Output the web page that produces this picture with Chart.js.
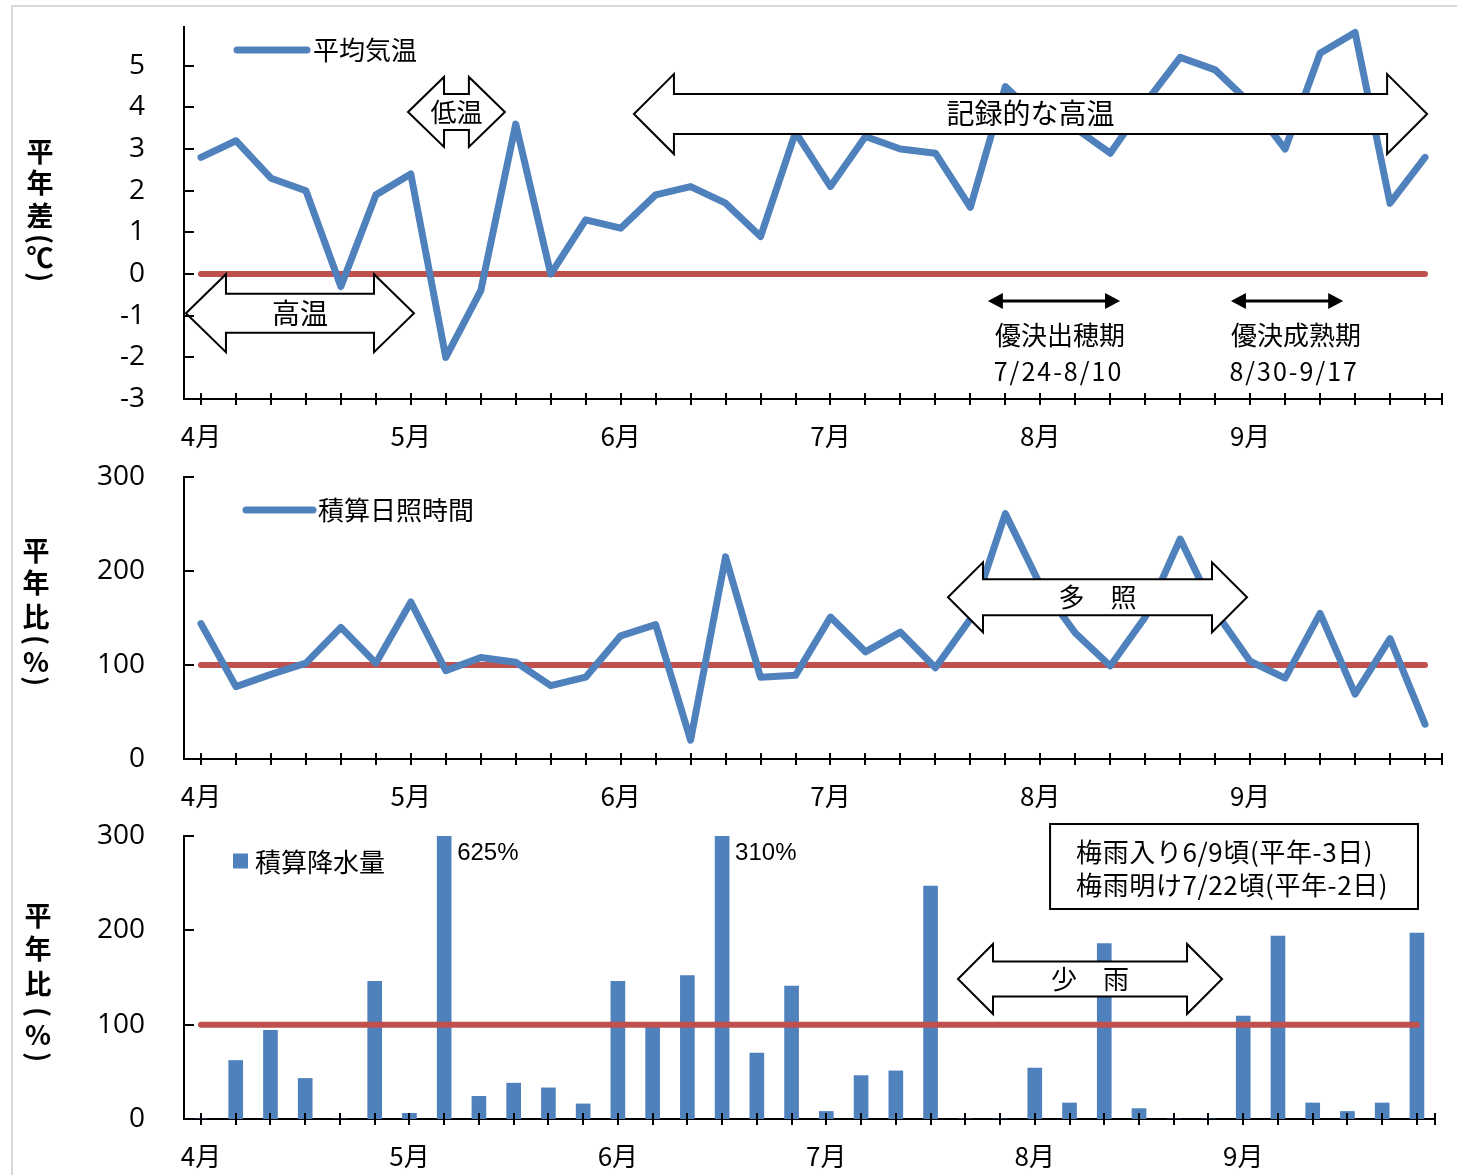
<!DOCTYPE html>
<html lang="ja"><head><meta charset="utf-8">
<script src="https://cdn.jsdelivr.net/npm/chart.js@4.4.1/dist/chart.umd.min.js"></script>
<style>
html,body{margin:0;padding:0;background:#fff;}
#wrap{position:relative;width:1457px;height:1175px;overflow:hidden;background:#fff;}
#wrap canvas{position:absolute;left:0;}
.fl{position:absolute;left:11px;top:5px;width:2px;height:1170px;background:#d9d9d9;}
.ft{position:absolute;left:11px;top:5px;width:1446px;height:2px;background:#d9d9d9;}
</style></head><body>
<div id="wrap">
<div class="fl"></div><div class="ft"></div>
<canvas id="c1" width="1457" height="460" style="top:0"></canvas>
<canvas id="c2" width="1457" height="360" style="top:460px"></canvas>
<canvas id="c3" width="1457" height="355" style="top:820px"></canvas>
</div>
<script>
// ---- data ----
const months = ['4月','5月','6月','7月','8月','9月'];
const periodsPerMonth = 6;   // 半旬
const nPeriods = 36;
const tempAnomaly = [2.8,3.2,2.3,2.0,-0.3,1.9,2.4,-2.0,-0.4,3.6,0.0,1.3,1.1,1.9,2.1,1.7,0.9,3.4,2.1,3.3,3.0,2.9,1.6,4.5,3.7,3.5,2.9,4.1,5.2,4.9,4.1,3.0,5.3,5.8,1.7,2.8];
const sunshineRatio = [144,77,90,102,140,102,167,94,108,103,78,87,131,143,20,215,87,89,151,114,135,97,149,261,185,134,99,151,234,157,104,86,155,69,128,37];
const precipRatio = [0,62,94,43,0,146,6,625,24,38,33,16,146,100,152,310,70,141,8,46,51,247,0,0,54,17,186,11,0,0,109,194,17,8,17,197];
const tempNormal = 0;
const ratioNormal = 100;
const tempTicks = [-3,-2,-1,0,1,2,3,4,5];
const ratioTicks = [0,100,200,300];

const BLUE = '#4f81bd', RED = '#c0504d';
const JP = '"Noto Sans CJK JP", sans-serif';

function pts(arr){ return arr.map((v,i)=>({x:i,y:v})); }
function normalLine(v){ return [{x:0,y:v},{x:nPeriods-1,y:v}]; }

function blockArrow(ctx,x1,x2,yc,hl,hh,sh){
  ctx.beginPath();
  ctx.moveTo(x1,yc);
  ctx.lineTo(x1+hl,yc-hh); ctx.lineTo(x1+hl,yc-sh);
  ctx.lineTo(x2-hl,yc-sh); ctx.lineTo(x2-hl,yc-hh);
  ctx.lineTo(x2,yc);
  ctx.lineTo(x2-hl,yc+hh); ctx.lineTo(x2-hl,yc+sh);
  ctx.lineTo(x1+hl,yc+sh); ctx.lineTo(x1+hl,yc+hh);
  ctx.closePath();
  ctx.fillStyle='#fff'; ctx.fill();
  ctx.lineWidth=2; ctx.strokeStyle='#000'; ctx.lineJoin='miter'; ctx.stroke();
}
function thinArrow(ctx,x1,x2,y){
  const hl=15, hh=8;
  ctx.strokeStyle='#000'; ctx.fillStyle='#000'; ctx.lineWidth=3;
  ctx.beginPath(); ctx.moveTo(x1+hl-2,y); ctx.lineTo(x2-hl+2,y); ctx.stroke();
  ctx.beginPath(); ctx.moveTo(x1,y); ctx.lineTo(x1+hl,y-hh); ctx.lineTo(x1+hl,y+hh); ctx.closePath(); ctx.fill();
  ctx.beginPath(); ctx.moveTo(x2,y); ctx.lineTo(x2-hl,y-hh); ctx.lineTo(x2-hl,y+hh); ctx.closePath(); ctx.fill();
}
// vertical (stacked) axis title: CJK upright, parentheses rotated
function verticalTitle(ctx, t){
  ctx.save();
  ctx.fillStyle='#000'; ctx.font='bold 27px '+JP; ctx.textAlign='center'; ctx.textBaseline='middle';
  [...t.text].forEach((ch,i)=>{
    const y=t.ys[i];
    if (ch==='(' || ch===')'){
      ctx.save(); ctx.translate(t.x,y); ctx.rotate(Math.PI/2); ctx.fillText(ch,0,0); ctx.restore();
    } else ctx.fillText(ch,t.x,y);
  });
  ctx.restore();
}

const decoPlugin = {
  id:'deco',
  afterDatasetsDraw(chart, args, o){
    const ctx=chart.ctx, xs=chart.scales.x, ys=chart.scales.y, ca=chart.chartArea;
    const X=v=>xs.getPixelForValue(v), Y=v=>ys.getPixelForValue(v);
    ctx.save();
    if (o.barLabels){
      ctx.font='24px "Liberation Sans", Arial, sans-serif'; ctx.fillStyle='#000';
      ctx.textAlign='left'; ctx.textBaseline='middle';
      o.barLabels.data.forEach((v,i)=>{ if(v>ys.max) ctx.fillText(v+'%', X(i)+13, ca.top+17); });
    }
    (o.arrows||[]).forEach(a=>{
      const x1=X(a.from), x2=X(a.to), yc=Y(a.y);
      blockArrow(ctx,x1,x2,yc,a.head,a.headHalf,a.shaftHalf);
      ctx.fillStyle='#000'; ctx.font=a.font; ctx.textAlign='center'; ctx.textBaseline='middle';
      ctx.fillText(a.text,(x1+x2)/2,yc+(a.dy||0));
    });
    (o.thin||[]).forEach(a=>thinArrow(ctx,X(a.from),X(a.to),Y(a.y)));
    (o.texts||[]).forEach(t=>{
      ctx.fillStyle='#000'; ctx.font=t.font; ctx.textAlign='center'; ctx.textBaseline='middle';
      ctx.letterSpacing = t.ls || '0px';
      ctx.fillText(t.text,X(t.x),Y(t.y));
      ctx.letterSpacing = '0px';
    });
    if (o.box){
      const b=o.box, x1=X(b.from), x2=X(b.to), y1=Y(b.top), y2=Y(b.bottom);
      ctx.fillStyle='#fff'; ctx.fillRect(x1,y1,x2-x1,y2-y1);
      ctx.lineWidth=2; ctx.strokeStyle='#000'; ctx.strokeRect(x1,y1,x2-x1,y2-y1);
      ctx.fillStyle='#000'; ctx.font=b.font; ctx.textAlign='left'; ctx.textBaseline='middle';
      ctx.letterSpacing = b.ls || '0px';
      b.lines.forEach((l,i)=>ctx.fillText(l,X(b.textX),Y(b.lineY[i])));
      ctx.letterSpacing = '0px';
    }
    const L=o.legend;
    if (L){
      if (L.kind==='line'){
        ctx.strokeStyle=BLUE; ctx.lineWidth=7; ctx.lineCap='round';
        ctx.beginPath(); ctx.moveTo(L.x1,L.y); ctx.lineTo(L.x2,L.y); ctx.stroke();
      } else {
        ctx.fillStyle=BLUE; ctx.fillRect(L.x1,L.y-7.5,15,15);
      }
      ctx.fillStyle='#000'; ctx.font='26px '+JP; ctx.textAlign='left'; ctx.textBaseline='middle';
      ctx.fillText(L.text,L.tx,L.y+(L.tdy||0));
    }
    if (o.title) verticalTitle(ctx, o.title);
    ctx.restore();
  },
  afterDraw(chart){
    const ctx=chart.ctx, xs=chart.scales.x, ys=chart.scales.y, ca=chart.chartArea;
    ctx.save(); ctx.strokeStyle='#000'; ctx.lineWidth=2; ctx.lineCap='butt';
    const bx=[];
    for(let i=0;i<nPeriods;i++) bx.push(Math.round(xs.getPixelForValue(i)));
    bx.push(Math.round(ca.right));
    ctx.beginPath();
    bx.forEach(px=>{ ctx.moveTo(px,ca.bottom-6); ctx.lineTo(px,ca.bottom+6); });
    ys.ticks.forEach(t=>{ const py=Math.round(ys.getPixelForValue(t.value)); ctx.moveTo(ca.left,py); ctx.lineTo(ca.left+10,py); });
    ctx.stroke();
    ctx.restore();
  }
};

function makeChart(id, p){
  const H = document.getElementById(id).height;
  return new Chart(document.getElementById(id), {
    data:{datasets:p.datasets},
    options:{
      responsive:false, animation:false, devicePixelRatio:1,
      layout:{padding:{left:0,right:1457-p.right,top:p.top,bottom:0}},
      plugins:{legend:{display:false}, tooltip:{enabled:false}, deco:p.deco},
      scales:{
        x:{type:'linear', min:p.xMin, max:p.xMax, offset:false,
           afterBuildTicks:s=>{ s.ticks=Array.from({length:nPeriods},(_,i)=>({value:i})); },
           afterFit:s=>{ s.height = H - p.bottom; },
           grid:{display:false, drawTicks:true, tickLength:22},
           border:{display:true,color:'#000',width:2},
           ticks:{autoSkip:false,maxRotation:0,minRotation:0,padding:0,color:'#000',
                  font:{family:JP,size:26},
                  callback:v=> (v%periodsPerMonth===0)? months[v/periodsPerMonth] : ''}},
        y:{type:'linear', min:p.yMin, max:p.yMax,
           afterBuildTicks:s=>{ s.ticks=p.yTicks.map(v=>({value:v})); },
           afterFit:s=>{ s.width = 184; },
           grid:{display:false, drawTicks:true, tickLength:39},
           border:{display:true,color:'#000',width:2},
           ticks:{padding:0,color:'#000',font:{family:'"Open Sans", sans-serif',size:28,lineHeight:1},
                  callback:v=>String(v)}}
      }
    },
    plugins:[decoPlugin]
  });
}

const lineStyle = {type:'line', pointRadius:0, tension:0, borderCapStyle:'round', borderJoinStyle:'round'};

// Panel 1: 平均気温 平年差
makeChart('c1',{
  top:27, bottom:399, right:1442, xMin:-0.486, xMax:35.486, yMin:-3, yMax:5.93, yTicks:tempTicks,
  datasets:[
    Object.assign({label:'平均気温', data:pts(tempAnomaly), borderColor:BLUE, borderWidth:7}, lineStyle),
    Object.assign({label:'平年', data:normalLine(tempNormal), borderColor:RED, borderWidth:6}, lineStyle)
  ],
  deco:{
    title:{text:'平年差(℃)', x:40, ys:[152,183,216,239,258,277]},
    legend:{kind:'line', x1:237, x2:307, y:50, tx:313, text:'平均気温'},
    arrows:[
      {from:-0.43, to:6.09, y:-0.94, head:40, headHalf:39, shaftHalf:19.5, text:'高温', font:'28px '+JP},
      {from:5.92, to:8.69, y:3.89, head:36, headHalf:35, shaftHalf:18, text:'低温', font:'26px '+JP},
      {from:12.38, to:35.06, y:3.84, head:40, headHalf:40, shaftHalf:20, text:'記録的な高温', font:'28px '+JP, dy:-1}
    ],
    thin:[{from:22.5,to:26.28,y:-0.65},{from:29.45,to:32.66,y:-0.65}],
    texts:[
      {x:24.56,y:-1.46,text:'優決出穂期',font:'26px '+JP},
      {x:24.52,y:-2.33,text:'7/24-8/10',font:'25px '+JP, ls:'2px'},
      {x:31.31,y:-1.46,text:'優決成熟期',font:'26px '+JP},
      {x:31.26,y:-2.33,text:'8/30-9/17',font:'25px '+JP, ls:'2px'}
    ]
  }
});

// Panel 2: 積算日照時間 平年比
makeChart('c2',{
  top:17, bottom:299, right:1442, xMin:-0.486, xMax:35.486, yMin:0, yMax:300, yTicks:ratioTicks,
  datasets:[
    Object.assign({label:'積算日照時間', data:pts(sunshineRatio), borderColor:BLUE, borderWidth:7}, lineStyle),
    Object.assign({label:'平年', data:normalLine(ratioNormal), borderColor:RED, borderWidth:6}, lineStyle)
  ],
  deco:{
    title:{text:'平年比(%)', x:36, ys:[91,123,157,180,202,221]},
    legend:{kind:'line', x1:246, x2:313, y:50, tx:318, text:'積算日照時間'},
    arrows:[{from:21.36, to:29.91, y:172, head:35, headHalf:35, shaftHalf:18, text:'多　照', font:'26px '+JP}]
  }
});

// Panel 3: 積算降水量 平年比
makeChart('c3',{
  top:16, bottom:299, right:1435, xMin:-0.489, xMax:35.52, yMin:0, yMax:300, yTicks:ratioTicks,
  datasets:[
    Object.assign({label:'平年', data:normalLine(ratioNormal), borderColor:RED, borderWidth:6}, lineStyle),
    {type:'bar', label:'積算降水量', data:pts(precipRatio), backgroundColor:BLUE, barThickness:14, borderWidth:0}
  ],
  deco:{
    title:{text:'平年比(%)', x:38, ys:[96,129,164,192,215,237]},
    legend:{kind:'box', x1:233, y:41, tx:255, text:'積算降水量', tdy:1},
    barLabels:{data:precipRatio},
    arrows:[{from:21.79, to:29.39, y:148.4, head:35, headHalf:35, shaftHalf:17.5, text:'少　雨', font:'26px '+JP}],
    box:{from:24.44, to:35.03, top:312.7, bottom:222.6, textX:25.19, lineY:[283,248], font:'26px '+JP, ls:'0.6px',
         lines:['梅雨入り6/9頃(平年-3日)','梅雨明け7/22頃(平年-2日)']}
  }
});
</script>
</body></html>
